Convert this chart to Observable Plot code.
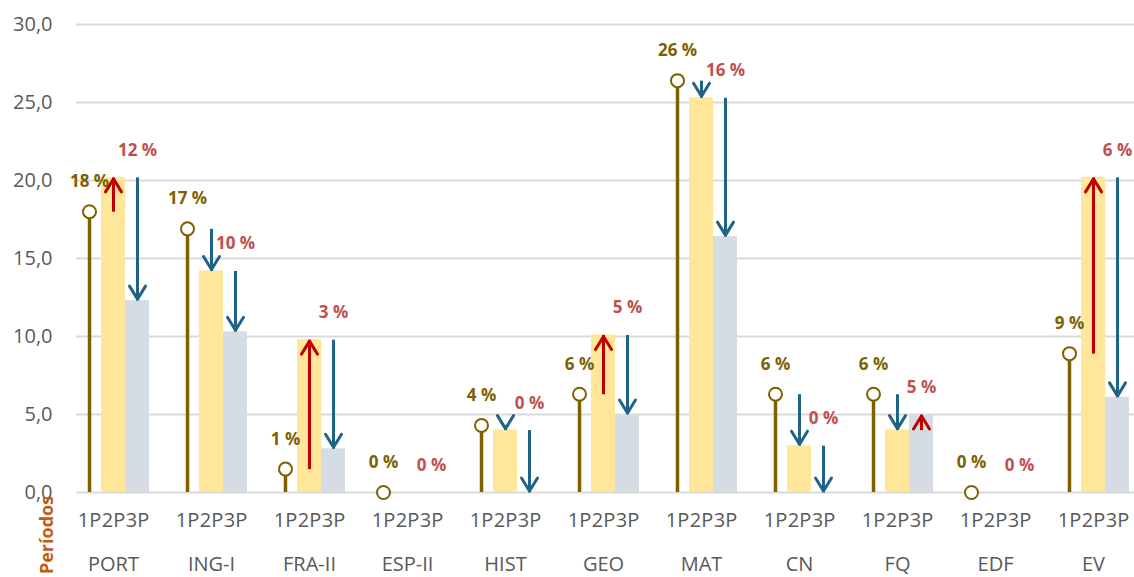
<!DOCTYPE html>
<html><head><meta charset="utf-8">
<script src="https://cdn.jsdelivr.net/npm/d3@7"></script>
<script src="https://cdn.jsdelivr.net/npm/@observablehq/plot@0.6"></script>
<style>
body{margin:0;background:#fff;}
#wrap{position:relative;width:1134px;height:577px;overflow:hidden;}
#per{position:absolute;left:46px;top:535px;transform:translate(-50%,-50%) rotate(-90deg);white-space:nowrap;font:bold 18px "Open Sans";color:#C55A11;}
</style>
</head><body>
<div id="wrap"><div id="chart"></div><div id="per">Períodos</div></div>
<script>
const subjects = ["PORT","ING-I","FRA-II","ESP-II","HIST","GEO","MAT","CN","FQ","EDF","EV"];
const periods = ["1P","2P","3P"];
const p1 = [18.0, 16.9, 1.5, 0, 4.3, 6.3, 26.4, 6.3, 6.3, 0, 8.9];
const p2 = [20.2, 14.2, 9.8, 0, 4.0, 10.1, 25.3, 3.0, 4.0, 0, 20.2];
const p3 = [12.3, 10.3, 2.8, 0, 0, 5.0, 16.4, 0, 5.0, 0, 6.1];
const label1 = ["18 %","17 %","1 %","0 %","4 %","6 %","26 %","6 %","6 %","0 %","9 %"];
const label3 = ["12 %","10 %","3 %","0 %","0 %","5 %","16 %","0 %","5 %","0 %","6 %"];
const yTicks = [0, 5, 10, 15, 20, 25, 30];

const series = [p1, p2, p3];
const rows = subjects.flatMap((s, i) => periods.map((p, j) => ({subject: s, period: p, value: series[j][i]})));
const r1 = rows.filter(d => d.period === "1P").map((d, i) => ({...d, label: label1[i]}));
const r2 = rows.filter(d => d.period === "2P");
const r3 = rows.filter(d => d.period === "3P");
const lab3 = subjects.map((s, i) => ({subject: s, period: "3P", value: Math.max(p2[i], p3[i]), label: label3[i]}));
const arrows = subjects.flatMap((s, i) => [1, 2].map(j => ({subject: s, period: periods[j], from: series[j-1][i], to: series[j][i]})))
  .filter(d => d.from !== d.to);
const up = arrows.filter(d => d.to > d.from);
const down = arrows.filter(d => d.to < d.from);

const brown = "#7F6000", red = "#C00000", blue = "#1F6386";
const font = "Open Sans";

// arrow head of fixed size (independent of arrow length)
const head = (color, context) => {
  const m = d3.create("svg:marker")
    .attr("viewBox", "-20 -12 24 24")
    .attr("markerWidth", 24).attr("markerHeight", 24)
    .attr("markerUnits", "userSpaceOnUse")
    .attr("orient", "auto")
    .attr("fill", "none").attr("stroke", color)
    .attr("stroke-width", 3).attr("stroke-linecap", "round").attr("stroke-linejoin", "miter");
  m.append("path").attr("d", "M-14.5,-8L-1.5,0L-14.5,8");
  return m.node();
};

const chart = Plot.plot({
  width: 1134, height: 577,
  marginLeft: 74, marginRight: 2, marginTop: 24, marginBottom: 85,
  style: {fontFamily: font, background: "#fff"},
  x: {domain: periods, padding: 0},
  fx: {domain: subjects, paddingInner: 0.24, paddingOuter: 0},
  y: {domain: [0, 30]},
  marks: [
    Plot.ruleY(yTicks, {stroke: "#d9d9d9", strokeWidth: 2, insetRight: -24}),
    Plot.barY(r2, {fx: "subject", x: "period", y: "value", fill: "#FFE699"}),
    Plot.barY(r3, {fx: "subject", x: "period", y: "value", fill: "#D6DCE4"}),
    Plot.ruleX(r1, {fx: "subject", x: "period", y1: 0, y2: "value", stroke: brown, strokeWidth: 3.5}),
    Plot.dot(r1, {fx: "subject", x: "period", y: "value", r: 6.5, fill: "white", stroke: brown, strokeWidth: 2}),
    Plot.link(up, {fx: "subject", x1: "period", x2: "period", y1: "from", y2: "to", stroke: red, strokeWidth: 3, markerEnd: head}),
    Plot.link(down, {fx: "subject", x1: "period", x2: "period", y1: "from", y2: "to", stroke: blue, strokeWidth: 3, markerEnd: head}),
    Plot.text(r1, {fx: "subject", x: "period", y: "value", text: "label", dy: -30, fill: brown, fontWeight: "bold", fontSize: 17}),
    Plot.text(lab3, {fx: "subject", x: "period", y: "value", text: "label", dy: -27, fill: "#C0504D", fontWeight: "bold", fontSize: 17}),
    Plot.axisY(yTicks, {tickSize: 0, tickPadding: 24, fontSize: 20, fill: "#595959", label: null, tickFormat: d => d.toFixed(1).replace(".", ",")}),
    Plot.axisX({tickSize: 0, tickPadding: 20, fontSize: 20, fill: "#595959", label: null}),
    Plot.axisFx({anchor: "bottom", tickSize: 0, tickPadding: 64, fontSize: 20, fill: "#595959", label: null})
  ]
});
document.getElementById("chart").appendChild(chart);
</script>
</body></html>
